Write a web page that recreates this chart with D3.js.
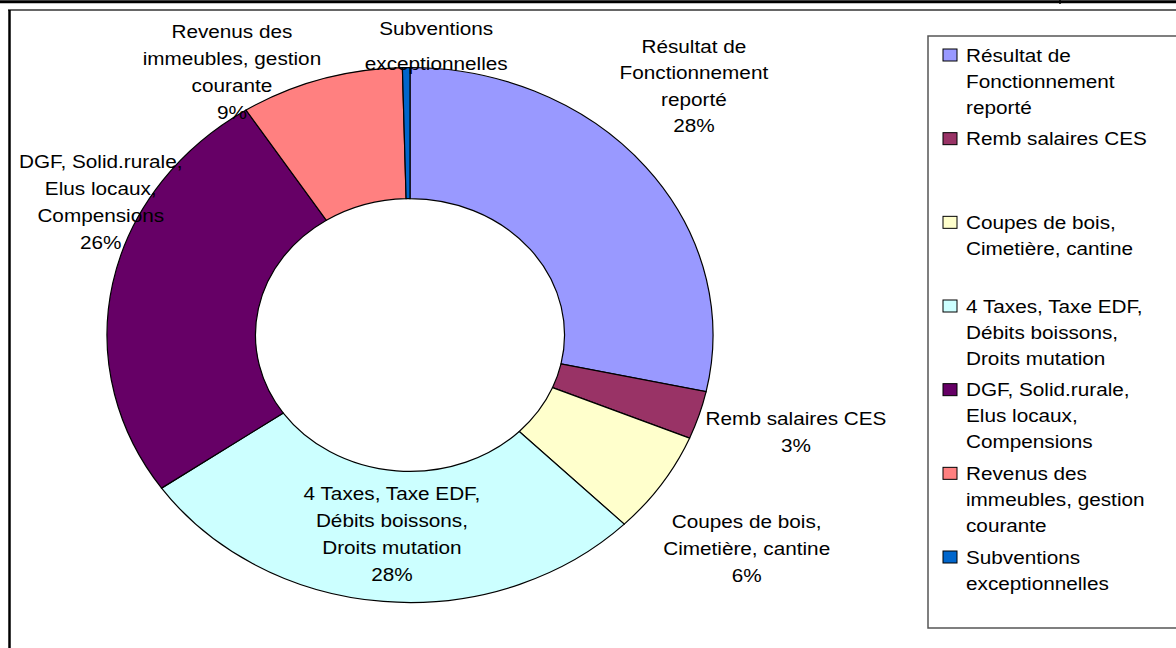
<!DOCTYPE html>
<html><head><meta charset="utf-8">
<script src="https://cdn.jsdelivr.net/npm/d3@7"></script>
<style>
body{margin:0;background:#fff}
svg{display:block}
text{font-family:"Liberation Sans",Arial,sans-serif;font-size:18.3px;fill:#000}
</style>
</head><body>
<svg id="c" width="1176" height="648"></svg>
<script>
// ---- data ----
const categories = ["Résultat de Fonctionnement reporté","Remb salaires CES","Coupes de bois, Cimetière, cantine","4 Taxes, Taxe EDF, Débits boissons, Droits mutation","DGF, Solid.rurale, Elus locaux, Compensions","Revenus des immeubles, gestion courante","Subventions exceptionnelles"];
const values = [28.4, 2.9, 6.2, 27.8, 25.6, 8.7, 0.4];
const colors = ["#9999FF","#993366","#FFFFCC","#CCFFFF","#660066","#FF8080","#0066CC"];
const legendLines = [["Résultat de","Fonctionnement","reporté"],["Remb salaires CES"],["Coupes de bois,","Cimetière, cantine"],["4 Taxes, Taxe EDF,","Débits boissons,","Droits mutation"],["DGF, Solid.rurale,","Elus locaux,","Compensions"],["Revenus des","immeubles, gestion","courante"],["Subventions","exceptionnelles"]];
const labelLines = [["Résultat de","Fonctionnement","reporté"],["Remb salaires CES"],["Coupes de bois,","Cimetière, cantine"],["4 Taxes, Taxe EDF,","Débits boissons,","Droits mutation"],["DGF, Solid.rurale,","Elus locaux,","Compensions"],["Revenus des","immeubles, gestion","courante"],["Subventions","exceptionnelles"]];
const showPct = [true,true,true,true,true,true,false];

// ---- layout ----
const W = 1176, H = 648;
const cx = 410, cy = 335, R = 267.5, sx = 1.1327, hole = 0.51;
const labelPlace = [
  {mode:"out", dx:48, dy:-81, lh:26.5},
  {mode:"out", dx:97, dy:17, lh:27},
  {mode:"out", dx:85, dy:65, lh:27},
  {mode:"in",  dx:2,  dy:-2, lh:27},
  {mode:"out", dx:-12, dy:-81, lh:27},
  {mode:"out", dx:-89, dy:-7, lh:27},
  {mode:"out", dx:30, dy:-22, lh:35}
];
const legend = {x:928, y:36, w:260, h:592, sqX:943, textX:966, first:55, last:557, lh:26};

const svg = d3.select("#c");
svg.append("rect").attr("width",W).attr("height",H).attr("fill","#fff");

// frame lines
svg.append("line").attr("x1",0).attr("x2",W).attr("y1",1.8).attr("y2",1.8).attr("stroke","#000").attr("stroke-width",3);
svg.append("line").attr("x1",1060).attr("x2",1060).attr("y1",0).attr("y2",4).attr("stroke","#000").attr("stroke-width",1.5);
svg.append("line").attr("x1",8).attr("x2",W).attr("y1",10).attr("y2",10).attr("stroke","#333").attr("stroke-width",1.6);
svg.append("line").attr("x1",9.5).attr("x2",9.5).attr("y1",10).attr("y2",H).attr("stroke","#000").attr("stroke-width",2.5);

// donut
const total = d3.sum(values);
const pie = d3.pie().sort(null).value(d => d);
const arcs = pie(values);
const arc = d3.arc().outerRadius(R).innerRadius(R*hole);
const edgeArc = d3.arc().outerRadius(R).innerRadius(R);

const g = svg.append("g").attr("transform",`translate(${cx},${cy}) scale(${sx},1)`);
g.selectAll("path").data(arcs).join("path")
  .attr("d", arc)
  .attr("fill", (d,i) => colors[i])
  .attr("stroke","#000")
  .attr("stroke-width",1.2)
  .attr("vector-effect","non-scaling-stroke");

// labels
const fmt = d3.format(".0%");
arcs.forEach((d,i) => {
  const p = labelPlace[i];
  const c = p.mode === "in" ? arc.centroid(d) : edgeArc.centroid(d);
  const x = cx + c[0]*sx + p.dx;
  const y = cy + c[1] + p.dy;
  const lines = labelLines[i].slice();
  if (showPct[i]) lines.push(fmt(values[i]/total));
  const y0 = y - (lines.length-1)*p.lh/2;
  lines.forEach((t,k) => {
    svg.append("text")
      .attr("text-anchor","middle")
      .attr("transform",`translate(${x},${y0 + k*p.lh + 6.5}) scale(${sx},1)`)
      .text(t);
  });
});

// legend
svg.append("rect").attr("x",legend.x).attr("y",legend.y).attr("width",legend.w).attr("height",legend.h)
  .attr("fill","#fff").attr("stroke","#555").attr("stroke-width",1.5);
const step = (legend.last - legend.first)/(categories.length-1);
categories.forEach((cat,i) => {
  const c = legend.first + i*step;
  svg.append("rect").attr("x",legend.sqX).attr("y",c-6).attr("width",14).attr("height",12)
    .attr("fill",colors[i]).attr("stroke","#000").attr("stroke-width",1);
  legendLines[i].forEach((t,k) => {
    svg.append("text")
      .attr("transform",`translate(${legend.textX},${c + k*legend.lh + 6.5}) scale(${sx},1)`)
      .text(t);
  });
});
</script>
</body></html>
